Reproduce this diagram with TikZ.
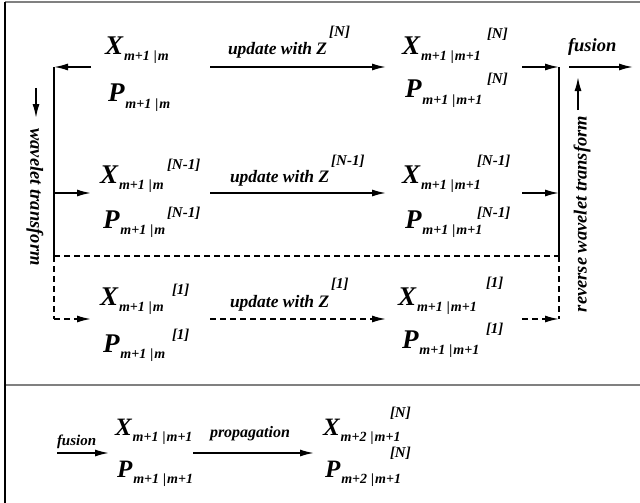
\documentclass[tikz,border=0pt]{standalone}
\usepackage{fontspec}
\setmainfont{Liberation Serif}
\usetikzlibrary{arrows.meta}
\newcommand\fs[1]{\fontsize{#1}{#1}\selectfont}
% #1 letter, #2 subscript, #3 superscript, #4 raise, #5 x offset of superscript, #6 letter size
\newcommand\vsym[6]{\makebox[0pt][l]{\hspace*{#5}\raisebox{#4}{\fs{15}#3}}{\fs{#6}#1}\kern1pt\raisebox{-6pt}{\fs{14}#2}}
\newcommand\sbm{m+1\kern4pt|\kern1pt m}
\newcommand\sbmm{m+1\kern4pt|\kern1pt m+1}
\newcommand\sbmmm{m+2\kern4pt|\kern1pt m+1}
\newcommand\upd[2]{{\fs{17.5}update with Z}\kern2pt\raisebox{#2}{\fs{15}#1}}
\begin{document}
\begin{tikzpicture}[x=1pt,y=-1pt,
  every node/.style={inner sep=0pt,outer sep=0pt,font=\bfseries\itshape},
  sym/.style={anchor=base west},
  lab/.style={anchor=base west},
  ln/.style={line width=1.6pt,line cap=butt},
  arr/.style={ln,-{Latex[length=14pt,width=7pt]}},
  dsh/.style={dash pattern=on 6pt off 4pt},
  frm/.style={line width=2pt,draw=black!50}]
\path[use as bounding box] (0,0) rectangle (640,503);
% frame
\draw[frm] (5,2.5) -- (640,2.5);
\draw[frm] (5,385) -- (640,385);
\draw[line width=1.6pt] (5,2) -- (5,503);
% row 1
\node[sym] (x1L) at (105,55) {\vsym{X}{\sbm}{}{0pt}{0pt}{27}};
\node[sym] (p1L) at (108,102) {\vsym{P}{\sbm}{}{0pt}{0pt}{27}};
\node[lab] (u1) at (228,55) {\upd{[N]}{18pt}};
\node[sym] (x1R) at (402,55) {\vsym{X}{\sbmm}{[N]}{16pt}{85pt}{27}};
\node[sym] (p1R) at (405,98) {\vsym{P}{\sbmm}{[N]}{14pt}{82pt}{27}};
\node[lab] (fu1) at (568,52) {\fs{18.5}fusion};
% row 2
\node[sym] (x2L) at (100,183) {\vsym{X}{\sbm}{[N-1]}{14pt}{67pt}{27}};
\node[sym] (p2L) at (103,228) {\vsym{P}{\sbm}{[N-1]}{11pt}{64pt}{27}};
\node[lab] (u2) at (230,182) {\upd{[N-1]}{17pt}};
\node[sym] (x2R) at (402,183) {\vsym{X}{\sbmm}{[N-1]}{18pt}{75pt}{27}};
\node[sym] (p2R) at (405,228) {\vsym{P}{\sbmm}{[N-1]}{11pt}{72pt}{27}};
% row 3
\node[sym] (x3L) at (100,305) {\vsym{X}{\sbm}{[1]}{11pt}{72pt}{27}};
\node[sym] (p3L) at (103,352) {\vsym{P}{\sbm}{[1]}{13pt}{69pt}{27}};
\node[lab] (u3) at (230,307) {\upd{[1]}{19pt}};
\node[sym] (x3R) at (398,305) {\vsym{X}{\sbmm}{[1]}{18pt}{88pt}{27}};
\node[sym] (p3R) at (402,348) {\vsym{P}{\sbmm}{[1]}{15pt}{84pt}{27}};
% vertical labels
\node[rotate=-90] (wt) at (35,197) {\fs{18.5}wavelet transform};
\node[rotate=90] (rwt) at (582,214) {\fs{18.5}reverse wavelet transform};
% bottom
\node[lab] (fu2) at (57,445) {\fs{15}fusion};
\node[sym] (xb1) at (115,435) {\vsym{X}{\sbmm}{}{0pt}{0pt}{25}};
\node[sym] (pb1) at (117,477) {\vsym{P}{\sbmm}{}{0pt}{0pt}{25}};
\node[lab] (prop) at (210,437) {\fs{16}propagation};
\node[sym] (xb2) at (323,435) {\vsym{X}{\sbmmm}{[N]}{18pt}{67pt}{25}};
\node[sym] (pb2) at (325,477) {\vsym{P}{\sbmmm}{[N]}{20pt}{65pt}{25}};
% coordinates
\coordinate (L1) at (54,67);
\coordinate (L2) at (54,193);
\coordinate (Lm) at (54,256);
\coordinate (L3) at (54,319);
\coordinate (R1) at (559,67);
\coordinate (R2) at (559,193);
\coordinate (Rm) at (559,256);
\coordinate (R3) at (559,319);
\coordinate (a1) at (91,67);
\coordinate (a2) at (91,193);
\coordinate (a3) at (91,319);
\coordinate (us1) at (210,67);  \coordinate (ue1) at (386,67);
\coordinate (us2) at (210,193); \coordinate (ue2) at (386,193);
\coordinate (us3) at (210,319); \coordinate (ue3) at (386,319);
\coordinate (rs1) at (522,67);
\coordinate (rs2) at (522,193);
\coordinate (rs3) at (522,319);
\coordinate (fs1) at (569,67); \coordinate (fe1) at (633,67);
\coordinate (wa) at (36,88); \coordinate (wb) at (36,118);
\coordinate (ra) at (578,110); \coordinate (rb) at (578,77);
\coordinate (fbs) at (57,453); \coordinate (fbe) at (109,453);
\coordinate (ps) at (193,453); \coordinate (pe) at (314,453);
% connectors
\draw[arr] (a1) -- (L1);
\draw[ln] (L1) -- (Lm);
\draw[arr] (L2) -- (a2);
\draw[ln,dsh] (Lm) -- (L3);
\draw[arr,dsh] (L3) -- (a3);
\draw[ln,dsh] (Lm) -- (Rm);
\draw[ln] (R1) -- (Rm);
\draw[ln,dsh] (Rm) -- (R3);
\draw[arr] (us1) -- (ue1);
\draw[arr] (us2) -- (ue2);
\draw[arr,dsh] (us3) -- (ue3);
\draw[arr] (rs1) -- (R1);
\draw[arr] (rs2) -- (R2);
\draw[arr,dsh] (rs3) -- (R3);
\draw[arr] (fs1) -- (fe1);
\draw[arr] (wa) -- (wb);
\draw[arr] (ra) -- (rb);
\draw[arr] (fbs) -- (fbe);
\draw[arr] (ps) -- (pe);
\end{tikzpicture}
\end{document}
